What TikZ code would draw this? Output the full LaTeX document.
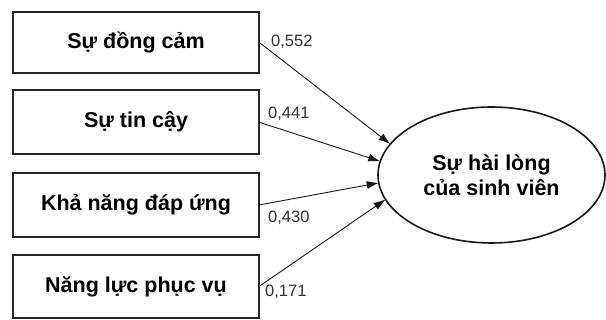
\documentclass[tikz,border=0pt]{standalone}
\usepackage{fontspec}
\setmainfont{Liberation Sans}
\usetikzlibrary{arrows.meta,shapes.geometric}
\begin{document}
\begin{tikzpicture}[x=1pt,y=-1pt,
  factor/.style={draw=black!85, line width=1.8pt, rectangle, minimum width=246pt, inner sep=0pt, outer sep=0pt,
    font=\fontsize{21.5}{25}\selectfont\bfseries},
  coef/.style={font=\fontsize{16.5}{19}\selectfont, text=black!80, inner sep=0pt, anchor=west},
  path/.style={draw=black!90, line width=0.9pt, -{Latex[length=12pt,width=8pt]}}
]
\useasboundingbox (0,0) rectangle (606,320);
\node[factor, minimum height=61pt] (b1) at (136,42.2) {Sự đồng cảm};
\node[factor, minimum height=64pt] (b2) at (136,122.2) {Sự tin cậy};
\node[factor, minimum height=64pt] (b3) at (136,205) {Khả năng đáp ứng};
\node[factor, minimum height=63pt] (b4) at (136,286.5) {Năng lực phục vụ};
\node[ellipse, draw=black!90, line width=1.6pt, minimum width=227pt, minimum height=136pt, inner sep=0pt, outer sep=0pt,
  align=center, font=\fontsize{21.5}{25}\selectfont\bfseries] (sat) at (491.5,175) {Sự hài lòng\\của sinh viên};
\draw[path] (b1.east) -- (sat.163.7);
\draw[path] (b2.east) -- (sat.173.4);
\draw[path] (b3.east) -- (sat.184);
\draw[path] (b4.east) -- (sat.193.5);
\node[coef] (c1) at (271,42) {0,552};
\node[coef] (c2) at (268,114) {0,441};
\node[coef] (c3) at (268,218) {0,430};
\node[coef] (c4) at (265,291.5) {0,171};
\end{tikzpicture}
\end{document}
